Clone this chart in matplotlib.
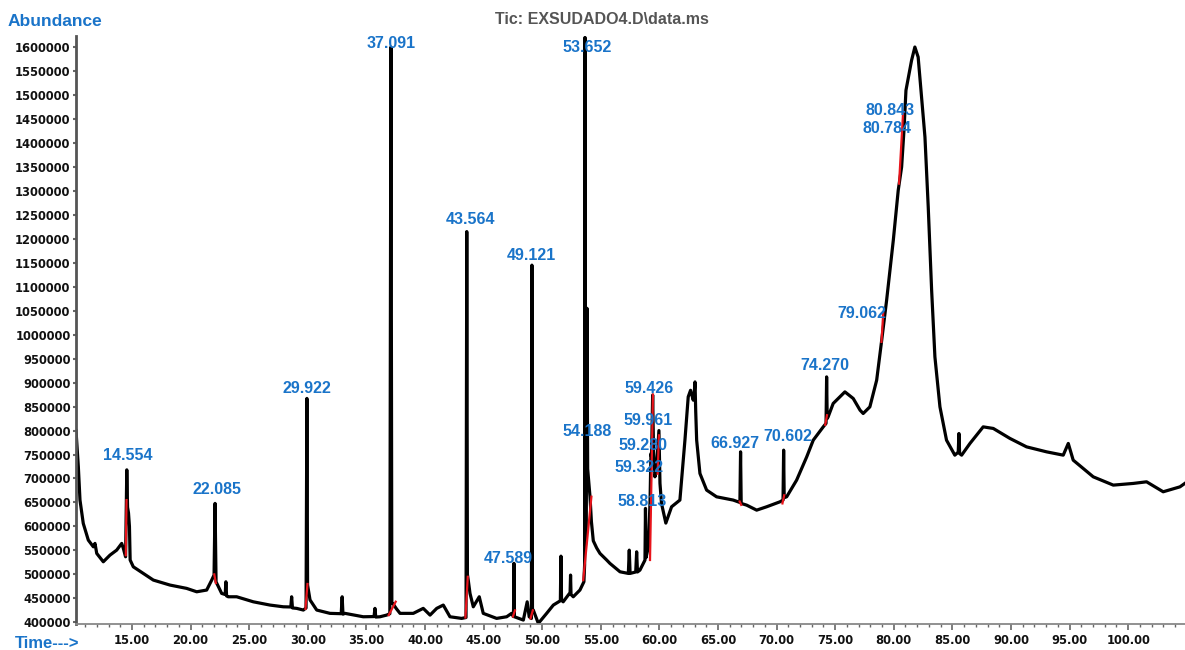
import matplotlib
matplotlib.use("Agg")
import matplotlib.pyplot as plt
from matplotlib.ticker import MultipleLocator, FixedLocator

# ---------------- data ----------------
time_min = [
    10.22, 10.42, 10.56, 10.84, 11.27, 11.70, 11.84, 11.99, 12.55, 13.12, 13.69,
    14.12, 14.26, 14.45, 14.554, 14.62, 14.70, 14.78, 14.84, 15.11, 15.96, 16.82,
    18.24, 19.66, 20.52, 21.37, 21.80, 22.00, 22.085, 22.17, 22.65, 22.95, 23.01,
    23.07, 23.21, 23.93, 25.35, 26.77, 27.91, 28.55, 28.62, 28.69, 29.05, 29.62,
    29.85, 29.922, 29.98, 30.19, 30.76, 31.89, 32.85, 32.93, 33.00, 33.17, 34.73,
    35.65, 35.73, 35.80, 36.16, 36.73, 37.00, 37.091, 37.17, 37.29, 37.57, 37.87,
    39.00, 39.85, 40.43, 41.00, 41.56, 42.13, 43.12, 43.50, 43.564, 43.62, 43.69,
    43.84, 44.12, 44.63, 44.97, 46.11, 46.97, 47.39, 47.55, 47.589, 47.63, 48.39,
    48.72, 48.89, 49.08, 49.121, 49.17, 49.24, 49.67, 50.38, 50.95, 51.55, 51.60,
    51.65, 51.79, 52.38, 52.42, 52.46, 52.65, 53.22, 53.56, 53.62, 53.652, 53.69,
    53.76, 53.82, 53.88, 54.08, 54.20, 54.36, 54.65, 54.93, 55.50, 55.78, 56.64,
    57.35, 57.43, 57.50, 57.98, 58.06, 58.13, 58.34, 58.77, 58.813, 58.86, 59.06,
    59.20, 59.28, 59.33, 59.426, 59.50, 59.62, 59.75, 59.961, 60.05, 60.18, 60.55,
    61.04, 61.75, 62.18, 62.46, 62.66, 62.89, 62.98, 63.04, 63.10, 63.18, 63.46,
    64.03, 64.88, 66.30, 66.87, 66.927, 66.98, 67.45, 68.30, 69.15, 70.29, 70.55,
    70.602, 70.65, 70.86, 71.71, 72.57, 73.13, 73.98, 74.22, 74.27, 74.32, 74.40,
    74.83, 75.83, 76.54, 77.12, 77.39, 77.96, 78.54, 78.97, 79.39, 79.96, 80.38,
    80.67, 80.87, 81.04, 81.52, 81.80, 82.08, 82.37, 82.66, 82.94, 83.23, 83.51,
    83.94, 84.50, 85.21, 85.50, 85.56, 85.62, 85.79, 86.50, 87.63, 88.49, 89.91,
    91.33, 93.04, 94.46, 94.89, 95.31, 97.02, 98.73, 100.43, 101.57, 102.99,
    104.42, 104.85,
]
abundance = [
    800000, 724300, 655000, 606300, 571500, 557500, 564600, 543700, 526300, 540200, 550600,
    564600, 554200, 536700, 718000, 640000, 628000, 600000, 530000, 515800, 502000, 488100,
    477700, 470800, 463700, 467300, 488100, 498600, 648000, 484600, 460300, 458000, 484600,
    455000, 453300, 453300, 442800, 436000, 432400, 432000, 453300, 430000, 429100, 425600,
    430000, 867000, 477700, 446700, 425600, 418700, 418000, 453300, 417000, 418700, 411600,
    412000, 429100, 411000, 411600, 415100, 418000, 1600000, 440000, 438000, 428000, 418700,
    418700, 429100, 415100, 429100, 436000, 411600, 408200, 410000, 1215000, 500000, 488100,
    460300, 432400, 453300, 418700, 408200, 411600, 418700, 412000, 523000, 411600, 404700,
    442800, 411600, 408000, 1145000, 425000, 425600, 397800, 418700, 436000, 445000, 538000,
    446000, 442800, 462000, 498500, 458000, 453300, 467300, 484600, 520000, 1620000, 560000,
    600000, 1055000, 720000, 662000, 610000, 570000, 555000, 543700, 530000, 522900, 505400,
    502000, 550600, 502000, 505000, 547100, 505000, 508900, 529800, 637600, 535000, 557500,
    650000, 752000, 745000, 874000, 760000, 703500, 720000, 800000, 690000, 648000, 607000,
    641000, 655000, 780000, 870300, 884000, 863400, 880000, 901500, 840000, 780000, 710500,
    675800, 661800, 655000, 650000, 755600, 648000, 644400, 634000, 641000, 651400, 655000,
    759100, 660000, 661800, 696600, 745100, 780000, 807700, 815000, 911900, 825000, 828600,
    856500, 880700, 866900, 842600, 835600, 849400, 905100, 988500, 1071900, 1197000, 1301200,
    1349800, 1426300, 1509700, 1572300, 1600000, 1579000, 1495700, 1412300, 1266400, 1092700, 953700,
    849400, 780000, 748700, 755000, 793800, 752000, 748700, 773100, 807700, 804400, 783600,
    766000, 755600, 748700, 773100, 738300, 703500, 686200, 689700, 693100, 672300,
    682600, 690000,
]

# integration baseline segments (red)
red_t0 = [14.47, 22.02, 29.80, 36.90, 43.45, 47.50, 49.00, 53.50, 59.20, 59.85, 66.85, 70.50, 74.15, 78.95, 80.45]
red_a0 = [540000, 500000, 428000, 415000, 410000, 412000, 408000, 488000, 530000, 710000, 652000, 648000, 812000, 985000, 1315000]
red_t1 = [14.53, 22.15, 29.97, 37.50, 43.65, 47.68, 49.20, 54.20, 59.45, 59.96, 66.98, 70.65, 74.30, 79.10, 80.80]
red_a1 = [655000, 482000, 480000, 443000, 495000, 425000, 425000, 662000, 875000, 790000, 645000, 665000, 832000, 1045000, 1465000]

peak_labels = ["14.554", "22.085", "29.922", "37.091", "43.564", "47.589", "49.121",
               "53.652", "54.188", "59.426", "59.961", "59.280", "59.322", "58.813",
               "66.927", "70.602", "74.270", "79.062", "80.843", "80.784"]

y_tick_values = list(range(400000, 1600001, 50000))
x_tick_values = [15, 20, 25, 30, 35, 40, 45, 50, 55, 60, 65, 70, 75, 80, 85, 90, 95, 100]

# ---------------- layout (label anchor positions, data coords) ----------------
label_pos = [(14.66, 748600), (22.25, 677700), (29.93, 888400), (37.10, 1607700),
             (43.84, 1240700), (47.08, 533900), (49.04, 1165800), (53.82, 1599400),
             (53.83, 797300), (59.15, 887800), (59.05, 820200), (58.60, 769500),
             (58.30, 722200), (58.49, 652800), (66.45, 773100), (71.00, 786900),
             (74.10, 936300), (77.29, 1044800), (79.68, 1468000), (79.44, 1429900)]

BLUE = "#1a74c9"

fig = plt.figure(figsize=(11.85, 6.5), dpi=100)
ax = fig.add_axes([76 / 1185, 26 / 650, 1109 / 1185, (624 - 36) / 650])

ax.plot(time_min, abundance, color="black", lw=2.3, solid_joinstyle="round", zorder=2)
for t0, a0, t1, a1 in zip(red_t0, red_a0, red_t1, red_a1):
    ax.plot([t0, t1], [a0, a1], color="#e8141b", lw=1.6, zorder=3)

for txt, (lx, ly) in zip(peak_labels, label_pos):
    ax.text(lx, ly, txt, color=BLUE, fontsize=11.5, fontweight="bold",
            family=["Liberation Sans", "DejaVu Sans"], ha="center", va="center", zorder=4)

ax.set_xlim(10.22, 104.85)
ax.set_ylim(396500, 1623000)

ax.xaxis.set_major_locator(FixedLocator(x_tick_values))
ax.xaxis.set_minor_locator(MultipleLocator(1))
ax.set_xticklabels([f"{v:.2f}" for v in x_tick_values])
ax.yaxis.set_major_locator(FixedLocator(y_tick_values))
ax.set_yticklabels([str(v) for v in y_tick_values])

for lab in ax.get_xticklabels() + ax.get_yticklabels():
    lab.set_fontweight("bold")
    lab.set_fontsize(8.3)
    lab.set_family("DejaVu Sans")
    lab.set_color("#111111")

ax.tick_params(axis="x", which="major", length=4, width=1.2, color="#666666", pad=3, direction="out")
ax.tick_params(axis="x", which="minor", length=2.5, width=1.0, color="#666666", direction="out")
ax.tick_params(axis="y", which="major", length=2, width=1.5, color="#666666", pad=2, direction="out")

for s in ["top", "right"]:
    ax.spines[s].set_visible(False)
ax.spines["left"].set_color("#555555")
ax.spines["left"].set_linewidth(2.0)
ax.spines["bottom"].set_color("#888888")
ax.spines["bottom"].set_linewidth(1.3)

fig.text(602 / 1185, 1 - 20 / 650, "Tic: EXSUDADO4.D\\data.ms", color="#555555",
         fontsize=11.5, fontweight="bold", family="Liberation Sans", ha="center", va="center")
fig.text(8 / 1185, 1 - 22 / 650, "Abundance", color=BLUE, fontsize=12.5,
         fontweight="bold", family="Liberation Sans", ha="left", va="center")
fig.text(15 / 1185, 1 - 644 / 650, "Time--->", color=BLUE, fontsize=12,
         fontweight="bold", family="Liberation Sans", ha="left", va="center")

fig.savefig("out.png", dpi=100)
